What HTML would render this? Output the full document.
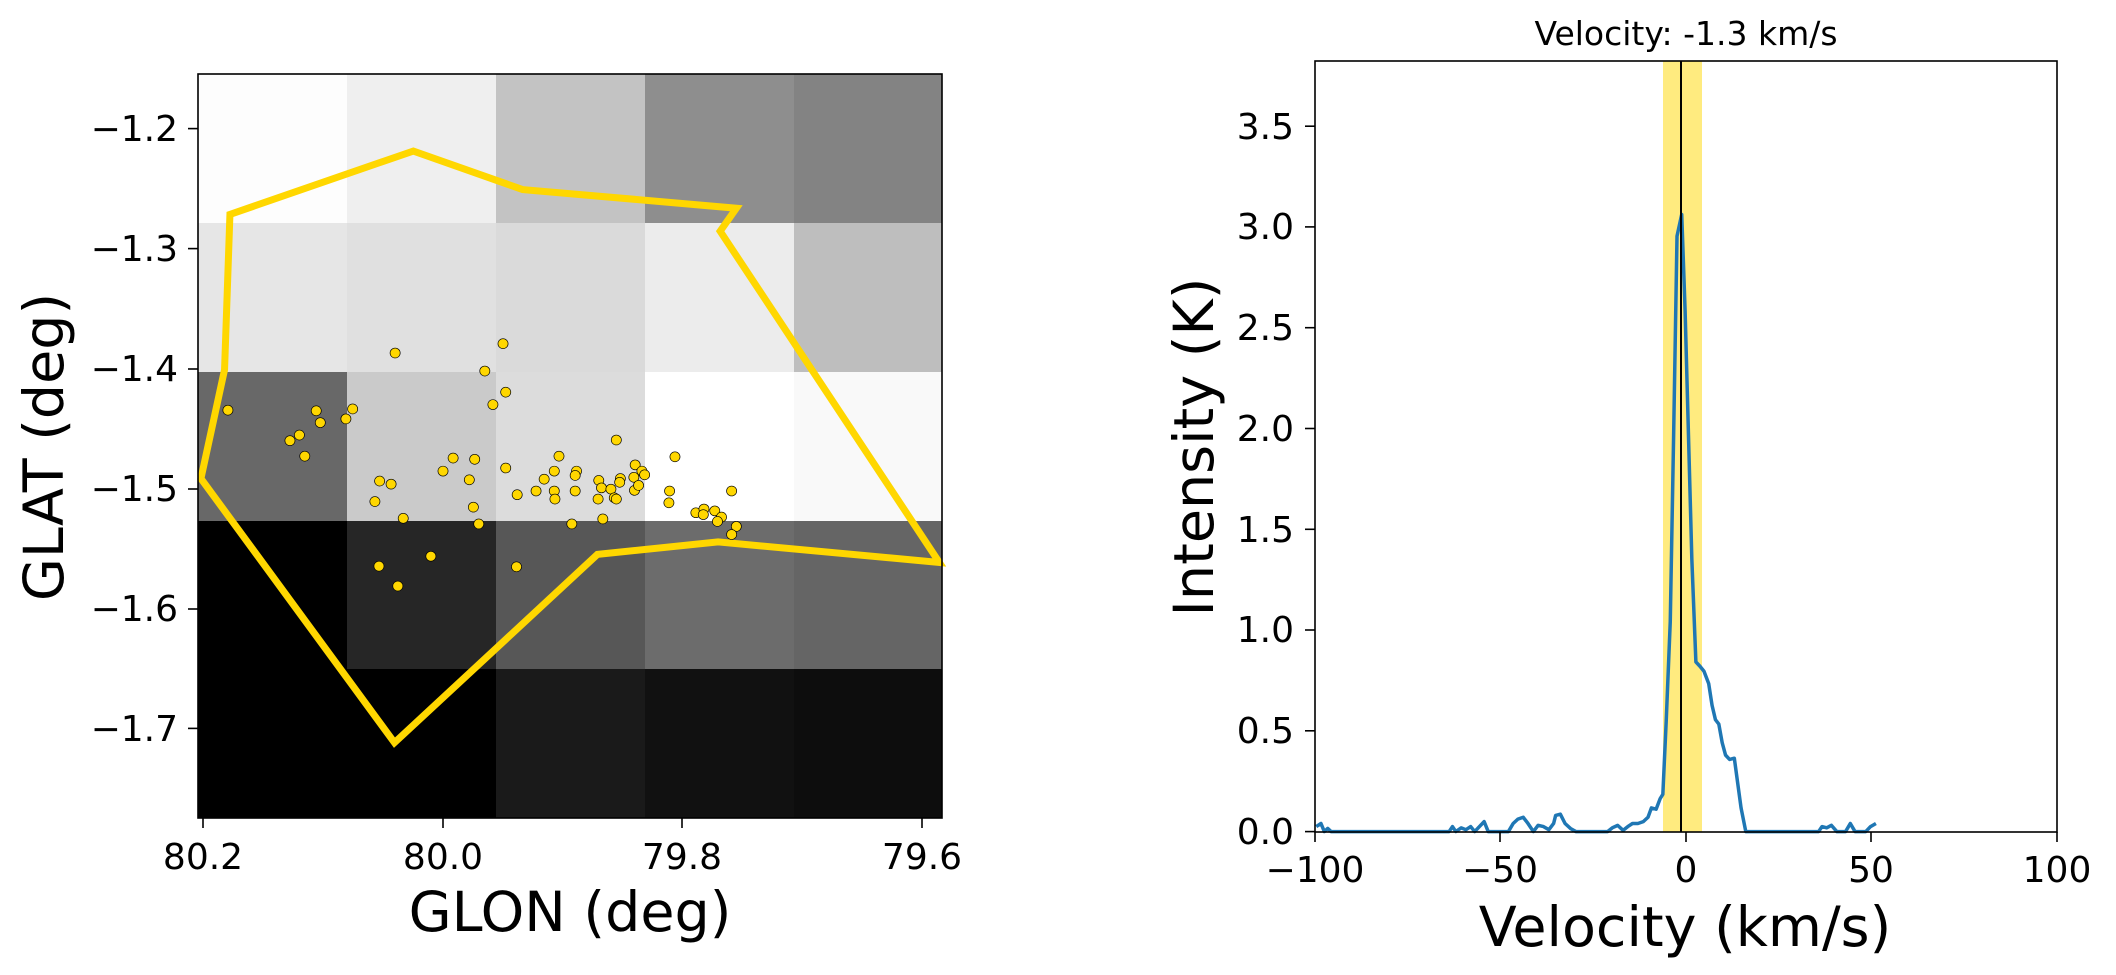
<!DOCTYPE html>
<html><head><meta charset="utf-8"><style>
html,body{margin:0;padding:0;background:#fff;}
svg{display:block;font-family:"DejaVu Sans","Liberation Sans",sans-serif;}
</style></head><body>
<svg width="2116" height="975" viewBox="0 0 2116 975" xmlns="http://www.w3.org/2000/svg">
<rect width="2116" height="975" fill="#fff"/>
<g shape-rendering="crispEdges">
<rect x="198" y="74" width="149" height="149" fill="#fdfdfd"/>
<rect x="347" y="74" width="149" height="149" fill="#efefef"/>
<rect x="496" y="74" width="149" height="149" fill="#c3c3c3"/>
<rect x="645" y="74" width="149" height="149" fill="#8e8e8e"/>
<rect x="794" y="74" width="148" height="149" fill="#838383"/>
<rect x="198" y="223" width="149" height="149" fill="#e6e6e6"/>
<rect x="347" y="223" width="149" height="149" fill="#e0e0e0"/>
<rect x="496" y="223" width="149" height="149" fill="#dadada"/>
<rect x="645" y="223" width="149" height="149" fill="#ececec"/>
<rect x="794" y="223" width="148" height="149" fill="#bebebe"/>
<rect x="198" y="372" width="149" height="149" fill="#686868"/>
<rect x="347" y="372" width="149" height="149" fill="#cacaca"/>
<rect x="496" y="372" width="149" height="149" fill="#dcdcdc"/>
<rect x="645" y="372" width="149" height="149" fill="#ffffff"/>
<rect x="794" y="372" width="148" height="149" fill="#f9f9f9"/>
<rect x="198" y="521" width="149" height="148" fill="#000"/>
<rect x="347" y="521" width="149" height="148" fill="#262626"/>
<rect x="496" y="521" width="149" height="148" fill="#575757"/>
<rect x="645" y="521" width="149" height="148" fill="#6c6c6c"/>
<rect x="794" y="521" width="148" height="148" fill="#656565"/>
<rect x="198" y="669" width="149" height="149" fill="#000"/>
<rect x="347" y="669" width="149" height="149" fill="#000"/>
<rect x="496" y="669" width="149" height="149" fill="#1a1a1a"/>
<rect x="645" y="669" width="149" height="149" fill="#111"/>
<rect x="794" y="669" width="148" height="149" fill="#0d0d0d"/>
</g>
<g transform="scale(0.6743,0.6215)">
<polygon points="341,345 613,243 775,305 1092,335 1068,372 1393,905 1065,872 886,892 585,1195 298,770 333,595" fill="none" stroke="#ffd700" stroke-width="7" vector-effect="non-scaling-stroke" stroke-linejoin="miter"/>
<g fill="#ffd700" stroke="#000" stroke-width="1" vector-effect="non-scaling-stroke">
<ellipse cx="586" cy="568" rx="7.5" ry="8"/><ellipse cx="746" cy="553" rx="7.5" ry="8"/><ellipse cx="719" cy="597" rx="7.5" ry="8"/><ellipse cx="750" cy="631" rx="7.5" ry="8"/><ellipse cx="731" cy="651" rx="7.5" ry="8"/><ellipse cx="338" cy="660" rx="7.5" ry="8"/><ellipse cx="469" cy="661" rx="7.5" ry="8"/><ellipse cx="523" cy="658" rx="7.5" ry="8"/><ellipse cx="475" cy="680" rx="7.5" ry="8"/><ellipse cx="513" cy="674" rx="7.5" ry="8"/><ellipse cx="444" cy="700" rx="7.5" ry="8"/><ellipse cx="430" cy="709" rx="7.5" ry="8"/><ellipse cx="452" cy="734" rx="7.5" ry="8"/><ellipse cx="914" cy="708" rx="7.5" ry="8"/><ellipse cx="1001" cy="735" rx="7.5" ry="8"/><ellipse cx="829" cy="734" rx="7.5" ry="8"/><ellipse cx="704" cy="739" rx="7.5" ry="8"/><ellipse cx="672" cy="737" rx="7.5" ry="8"/><ellipse cx="657" cy="758" rx="7.5" ry="8"/><ellipse cx="750" cy="753" rx="7.5" ry="8"/><ellipse cx="563" cy="774" rx="7.5" ry="8"/><ellipse cx="580" cy="779" rx="7.5" ry="8"/><ellipse cx="696" cy="772" rx="7.5" ry="8"/><ellipse cx="822" cy="758" rx="7.5" ry="8"/><ellipse cx="807" cy="771" rx="7.5" ry="8"/><ellipse cx="855" cy="758" rx="7.5" ry="8"/><ellipse cx="853" cy="765" rx="7.5" ry="8"/><ellipse cx="888" cy="773" rx="7.5" ry="8"/><ellipse cx="942" cy="748" rx="7.5" ry="8"/><ellipse cx="952" cy="758" rx="7.5" ry="8"/><ellipse cx="956" cy="764" rx="7.5" ry="8"/><ellipse cx="940" cy="768" rx="7.5" ry="8"/><ellipse cx="920" cy="770" rx="7.5" ry="8"/><ellipse cx="919" cy="776" rx="7.5" ry="8"/><ellipse cx="892" cy="785" rx="7.5" ry="8"/><ellipse cx="906" cy="787" rx="7.5" ry="8"/><ellipse cx="941" cy="789" rx="7.5" ry="8"/><ellipse cx="947" cy="781" rx="7.5" ry="8"/><ellipse cx="767" cy="796" rx="7.5" ry="8"/><ellipse cx="795" cy="790" rx="7.5" ry="8"/><ellipse cx="822" cy="790" rx="7.5" ry="8"/><ellipse cx="823" cy="803" rx="7.5" ry="8"/><ellipse cx="853" cy="790" rx="7.5" ry="8"/><ellipse cx="887" cy="803" rx="7.5" ry="8"/><ellipse cx="911" cy="801" rx="7.5" ry="8"/><ellipse cx="914" cy="803" rx="7.5" ry="8"/><ellipse cx="993" cy="790" rx="7.5" ry="8"/><ellipse cx="1085" cy="790" rx="7.5" ry="8"/><ellipse cx="992" cy="809" rx="7.5" ry="8"/><ellipse cx="556" cy="807" rx="7.5" ry="8"/><ellipse cx="702" cy="816" rx="7.5" ry="8"/><ellipse cx="1032" cy="825" rx="7.5" ry="8"/><ellipse cx="1044" cy="819" rx="7.5" ry="8"/><ellipse cx="1043" cy="828" rx="7.5" ry="8"/><ellipse cx="1060" cy="822" rx="7.5" ry="8"/><ellipse cx="1070" cy="832" rx="7.5" ry="8"/><ellipse cx="1064" cy="839" rx="7.5" ry="8"/><ellipse cx="1092" cy="847" rx="7.5" ry="8"/><ellipse cx="1085" cy="860" rx="7.5" ry="8"/><ellipse cx="598" cy="834" rx="7.5" ry="8"/><ellipse cx="710" cy="843" rx="7.5" ry="8"/><ellipse cx="848" cy="843" rx="7.5" ry="8"/><ellipse cx="894" cy="835" rx="7.5" ry="8"/><ellipse cx="562" cy="911" rx="7.5" ry="8"/><ellipse cx="766" cy="912" rx="7.5" ry="8"/><ellipse cx="639" cy="895" rx="7.5" ry="8"/><ellipse cx="590" cy="943" rx="7.5" ry="8"/>
</g></g>
<rect x="198" y="74" width="744" height="744" fill="none" stroke="#000" stroke-width="1.6"/>
<g stroke="#000" stroke-width="1.6">
<line x1="188" y1="128.6" x2="198" y2="128.6"/><line x1="188" y1="248.6" x2="198" y2="248.6"/><line x1="188" y1="369" x2="198" y2="369"/><line x1="188" y1="489" x2="198" y2="489"/><line x1="188" y1="609" x2="198" y2="609"/><line x1="188" y1="728.4" x2="198" y2="728.4"/>
<line x1="203" y1="818" x2="203" y2="828"/><line x1="443" y1="818" x2="443" y2="828"/><line x1="682" y1="818" x2="682" y2="828"/><line x1="922" y1="818" x2="922" y2="828"/>
</g>
<g font-size="36" fill="#000" text-anchor="end">
<text x="178" y="141">−1.2</text><text x="178" y="261">−1.3</text><text x="178" y="381">−1.4</text><text x="178" y="501">−1.5</text><text x="178" y="621">−1.6</text><text x="178" y="741">−1.7</text>
</g>
<g font-size="36" fill="#000" text-anchor="middle">
<text x="203" y="869">80.2</text><text x="443" y="869">80.0</text><text x="682" y="869">79.8</text><text x="922" y="869">79.6</text>
</g>
<text x="570" y="931" font-size="55.5" text-anchor="middle">GLON (deg)</text>
<text transform="translate(63,447) rotate(-90)" font-size="55.5" text-anchor="middle">GLAT (deg)</text>

<rect x="1663" y="61" width="39" height="771" fill="#ffd700" opacity="0.5"/>
<g transform="translate(1058,0) scale(0.6743,0.6215)">
<polyline fill="none" stroke="#1f77b4" stroke-width="3.5" vector-effect="non-scaling-stroke" stroke-linejoin="round" points="383,1330 390,1325 395,1338 400,1333 405,1338 545,1338 580,1338 585,1330 590,1338 598,1332 605,1335 612,1330 618,1338 625,1330 632,1322 638,1338 668,1338 675,1325 682,1318 690,1315 697,1325 705,1338 712,1328 720,1330 728,1335 735,1325 738,1312 745,1310 752,1325 760,1333 768,1338 815,1338 822,1332 830,1328 838,1336 845,1330 852,1325 860,1325 868,1322 875,1315 880,1300 887,1302 893,1285 897,1278 902,1160 908,1000 913,700 918,380 925,345 930,500 935,700 940,900 946,1065 952,1072 958,1080 965,1100 970,1135 975,1158 980,1165 985,1195 990,1215 996,1222 1003,1220 1008,1260 1013,1300 1020,1338 1080,1338 1128,1338 1133,1330 1140,1332 1147,1328 1155,1338 1168,1338 1175,1325 1182,1338 1198,1338 1205,1330 1213,1325"/>
</g>
<line x1="1681" y1="61" x2="1681" y2="832" stroke="#000" stroke-width="2"/>
<rect x="1315" y="61" width="742" height="771" fill="none" stroke="#000" stroke-width="1.6"/>
<g stroke="#000" stroke-width="1.6">
<line x1="1305" y1="831.6" x2="1315" y2="831.6"/><line x1="1305" y1="730.8" x2="1315" y2="730.8"/><line x1="1305" y1="630" x2="1315" y2="630"/><line x1="1305" y1="529.3" x2="1315" y2="529.3"/><line x1="1305" y1="428.5" x2="1315" y2="428.5"/><line x1="1305" y1="327.7" x2="1315" y2="327.7"/><line x1="1305" y1="226.9" x2="1315" y2="226.9"/><line x1="1305" y1="126.2" x2="1315" y2="126.2"/>
<line x1="1315" y1="832" x2="1315" y2="842"/><line x1="1500" y1="832" x2="1500" y2="842"/><line x1="1686" y1="832" x2="1686" y2="842"/><line x1="1871" y1="832" x2="1871" y2="842"/><line x1="2057" y1="832" x2="2057" y2="842"/>
</g>
<g font-size="36" fill="#000" text-anchor="end">
<text x="1294" y="844">0.0</text><text x="1294" y="743">0.5</text><text x="1294" y="642">1.0</text><text x="1294" y="542">1.5</text><text x="1294" y="441">2.0</text><text x="1294" y="340">2.5</text><text x="1294" y="239">3.0</text><text x="1294" y="139">3.5</text>
</g>
<g font-size="36" fill="#000" text-anchor="middle">
<text x="1315" y="882">−100</text><text x="1500" y="882">−50</text><text x="1686" y="882">0</text><text x="1871" y="882">50</text><text x="2057" y="882">100</text>
</g>
<text x="1685" y="946" font-size="55.5" text-anchor="middle">Velocity (km/s)</text>
<text transform="translate(1213,447) rotate(-90)" font-size="55.5" text-anchor="middle">Intensity (K)</text>
<text x="1686" y="45" font-size="33" text-anchor="middle">Velocity: -1.3 km/s</text>
</svg>
</body></html>
